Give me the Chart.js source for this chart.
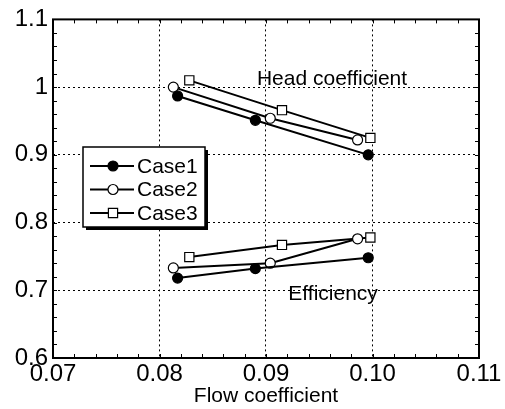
<!DOCTYPE html>
<html>
<head>
<meta charset="utf-8">
<script src="https://cdn.jsdelivr.net/npm/chart.js@4.4.0/dist/chart.umd.min.js"></script>
<style>
  html, body { margin: 0; padding: 0; background: #fff; }
  #wrap { width: 505px; height: 409px; }
</style>
</head>
<body>
<div id="wrap"><canvas id="chart" width="505" height="409"></canvas></div>
<script>
// values
const caseNames = ['Case1', 'Case2', 'Case3'];
const flowCase1 = [0.0817, 0.0890, 0.0996];
const flowCase2 = [0.0813, 0.0904, 0.0986];
const flowCase3 = [0.0828, 0.0915, 0.0998];
const headCase1 = [0.987, 0.951, 0.900];
const headCase2 = [1.000, 0.954, 0.922];
const headCase3 = [1.010, 0.966, 0.925];
const effCase1 = [0.718, 0.732, 0.748];
const effCase2 = [0.733, 0.740, 0.776];
const effCase3 = [0.749, 0.767, 0.778];
const xTickLabels = ['0.07', '0.08', '0.09', '0.10', '0.11'];
const yTickLabels = ['0.6', '0.7', '0.8', '0.9', '1', '1.1'];
const curveLabels = ['Head coefficient', 'Efficiency'];
const xTitle = 'Flow coefficient';

const FONT = '"Liberation Sans", Arial, sans-serif';

function pts(xs, ys) {
  return xs.map((x, i) => ({ x: x, y: ys[i] }));
}

const caseStyles = [
  { pointStyle: 'circle', pointBackgroundColor: '#000', pointRadius: 5 },
  { pointStyle: 'circle', pointBackgroundColor: '#fff', pointRadius: 5 },
  { pointStyle: 'rect', pointBackgroundColor: '#fff', pointRadius: 6.5 }
];

const flows = [flowCase1, flowCase2, flowCase3];
const heads = [headCase1, headCase2, headCase3];
const effs = [effCase1, effCase2, effCase3];

const datasets = [];
for (let i = 0; i < 3; i++) {
  [heads[i], effs[i]].forEach((ys, k) => {
    datasets.push(Object.assign({
      label: caseNames[i],
      legendEntry: k === 0,
      data: pts(flows[i], ys),
      borderColor: '#000',
      borderWidth: 2,
      pointBorderColor: '#000',
      pointBorderWidth: 1.2,
      showLine: true,
      tension: 0
    }, caseStyles[i]));
  });
}

// minor ticks (inward) on all four sides
const minorTicks = {
  id: 'minorTicks',
  afterDraw(chart) {
    const { ctx, chartArea: a, scales: { x, y } } = chart;
    ctx.save();
    ctx.strokeStyle = '#000';
    ctx.lineWidth = 1;
    ctx.beginPath();
    for (let v = 0.07; v <= 0.1101; v += 0.002) {
      const px = Math.round(x.getPixelForValue(v)) + 0.5;
      ctx.moveTo(px, a.bottom); ctx.lineTo(px, a.bottom - 4);
      ctx.moveTo(px, a.top); ctx.lineTo(px, a.top + 4);
    }
    for (let v = 0.6; v <= 1.1001; v += 0.02) {
      const py = Math.round(y.getPixelForValue(v)) + 0.5;
      ctx.moveTo(a.left, py); ctx.lineTo(a.left + 4, py);
      ctx.moveTo(a.right, py); ctx.lineTo(a.right - 4, py);
    }
    ctx.stroke();
    ctx.lineWidth = 2;
    ctx.strokeRect(a.left, a.top, a.right - a.left, a.bottom - a.top);
    ctx.restore();
  }
};

// curve names and boxed legend inside the plot
const annotations = {
  id: 'annotations',
  afterDatasetsDraw(chart) {
    const { ctx, scales: { x, y } } = chart;
    ctx.save();
    ctx.fillStyle = '#000';
    ctx.font = '21px ' + FONT;
    ctx.textAlign = 'center';
    ctx.textBaseline = 'middle';
    ctx.fillText(curveLabels[0], x.getPixelForValue(0.0962), y.getPixelForValue(1.011));
    ctx.fillText(curveLabels[1], x.getPixelForValue(0.0963), y.getPixelForValue(0.694));

    // legend box
    const bx = 83, by = 147, bw = 122, bh = 80;
    ctx.fillRect(bx + 3, by + 3, bw, bh);
    ctx.fillStyle = '#fff';
    ctx.fillRect(bx, by, bw, bh);
    ctx.strokeStyle = '#000';
    ctx.lineWidth = 1.5;
    ctx.strokeRect(bx, by, bw, bh);

    const entries = chart.data.datasets.filter(d => d.legendEntry);
    entries.forEach((d, i) => {
      const ly = 166 + i * 23.5;
      ctx.lineWidth = 2;
      ctx.beginPath();
      ctx.moveTo(90, ly); ctx.lineTo(134, ly);
      ctx.stroke();
      ctx.fillStyle = d.pointBackgroundColor;
      ctx.lineWidth = 1.2;
      Chart.helpers.drawPoint(ctx, { pointStyle: d.pointStyle, radius: d.pointRadius, borderWidth: 1.2 }, 113, ly);
      ctx.fillStyle = '#000';
      ctx.textAlign = 'left';
      ctx.font = '21px ' + FONT;
      ctx.fillText(d.label, 137, ly + 1);
    });
    ctx.restore();
  }
};

new Chart(document.getElementById('chart'), {
  type: 'scatter',
  data: { datasets: datasets },
  plugins: [minorTicks, annotations],
  options: {
    responsive: false,
    animation: false,
    devicePixelRatio: 1,
    layout: { padding: { left: 0, right: 26, top: 15, bottom: 0 } },
    plugins: { legend: { display: false }, tooltip: { enabled: false } },
    scales: {
      x: {
        type: 'linear',
        min: 0.07,
        max: 0.11,
        afterFit(s) { s.height = 51; },
        afterBuildTicks(s) { s.ticks = xTickLabels.map(t => ({ value: parseFloat(t) })); },
        ticks: {
          callback: (v, i) => xTickLabels[i],
          font: { family: FONT, size: 24 },
          color: '#000',
          padding: 2,
          maxRotation: 0
        },
        grid: { color: '#000', lineWidth: 1, drawTicks: false },
        border: { display: false, dash: [2, 3] },
        title: {
          display: true,
          text: xTitle,
          font: { family: FONT, size: 21 },
          color: '#000',
          padding: { top: 0, bottom: 0 }
        }
      },
      y: {
        type: 'linear',
        min: 0.6,
        max: 1.1,
        afterFit(s) { s.width = 53; },
        afterBuildTicks(s) { s.ticks = yTickLabels.map(t => ({ value: parseFloat(t) })); },
        ticks: {
          callback: (v, i) => yTickLabels[i],
          font: { family: FONT, size: 24 },
          color: '#000',
          padding: 5
        },
        grid: { color: '#000', lineWidth: 1, drawTicks: false },
        border: { display: false, dash: [2, 3] }
      }
    }
  }
});
</script>
</body>
</html>
